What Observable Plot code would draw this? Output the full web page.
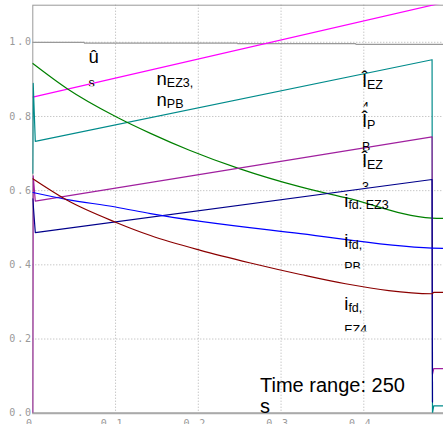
<!DOCTYPE html>
<html><head><meta charset="utf-8">
<script src="https://cdn.jsdelivr.net/npm/d3@7"></script>
<script src="https://cdn.jsdelivr.net/npm/@observablehq/plot@0.6"></script>
<style>html,body{margin:0;padding:0;overflow:hidden;background:#fff;width:443px;height:424px}</style>
</head><body><div id="chart"></div>
<script>
// Axis ticks
const xTicks = [0, 0.1, 0.2, 0.3, 0.4];
const yTicks = [0, 0.2, 0.4, 0.6, 0.8, 1.0];

// Series (time in s, per-unit values)
const usT = [0, 0.062, 0.0625, 0.247, 0.2475, 0.39, 0.3905, 0.5];
const usV = [1.0, 1.0, 0.9975, 0.9975, 0.9965, 0.9965, 0.9945, 0.9945];

const magT = [0, 0.5];
const magV = [0.852, 1.109];

const tealT = [0, 0.0005, 0.003, 0.4825, 0.4830, 0.4845, 0.5];
const tealV = [0.647, 0.889, 0.733, 0.953, 0.0, 0.02, 0.02];

const greenT = [0, 0.0416, 0.1, 0.1422, 0.1893, 0.2486, 0.3235, 0.3779, 0.4825, 0.5];
const greenV = [0.943, 0.875, 0.800, 0.7545, 0.709, 0.660, 0.610, 0.581, 0.526, 0.525];

const purpleT = [0, 0.0005, 0.003, 0.4825, 0.4830, 0.4845, 0.5];
const purpleV = [0, 0.64, 0.572, 0.745, 0.105, 0.12, 0.12];

const navyT = [0, 0.003, 0.4825, 0.4830];
const navyV = [0.578, 0.487, 0.630, 0.03];

const blueT = [0, 0.0416, 0.1, 0.1422, 0.3235, 0.4825, 0.5];
const blueV = [0.595, 0.576, 0.556, 0.538, 0.484, 0.445, 0.444];

const redT = [0, 0.0416, 0.1, 0.1422, 0.2026, 0.263, 0.3235, 0.3779, 0.4825, 0.4845, 0.5];
const redV = [0.632, 0.574, 0.515, 0.479, 0.439, 0.405, 0.374, 0.349, 0.322, 0.326, 0.326];

// Annotations
const labelMain = ["û", "n", "Î", "Î", "Î", "i", "i", "i", "Time range: 250"];
const labelSub = ["", "EZ3,", "EZ", "P", "EZ", "fd, EZ3", "fd,", "fd,", ""];
const label2Main = ["", "n", "", "", "", "", "", "", "s"];
const label2Sub = ["s", "PB", "4", "B", "3", "", "PB", "EZ4", ""];
const labelX = [0.0673, 0.1495, 0.3977, 0.3977, 0.3977, 0.3764, 0.3764, 0.3764, 0.2746];
const labelY = [0.9434, 0.884, 0.8794, 0.7707, 0.6628, 0.5549, 0.447, 0.277, 0.0585];

// styling (not data)
const labelClip = [23, 23, 19.5, 23, 20, 1.5, 21, 20.7, 25];
const labelSize = [18.5, 18.5, 18.5, 18.5, 18.5, 18.5, 18.5, 18.5, 20];

const series = [
  {T: usT, V: usV, color: "#999999", curve: "linear"},
  {T: magT, V: magV, color: "#ff00ff", curve: "linear"},
  {T: tealT, V: tealV, color: "#008b8b", curve: "linear"},
  {T: greenT, V: greenV, color: "#008000", curve: "monotone-x"},
  {T: purpleT, V: purpleV, color: "#a0209f", curve: "linear"},
  {T: navyT, V: navyV, color: "#00008b", curve: "linear"},
  {T: blueT, V: blueV, color: "#0000ff", curve: "monotone-x"},
  {T: redT, V: redV, color: "#8b0000", curve: "monotone-x"}
];

const lineMarks = series.map(s => Plot.line(s.T.map((t, i) => ({t, v: s.V[i]})), {
  x: "t", y: "v", stroke: s.color, strokeWidth: 1.2, curve: s.curve, clip: true
}));

const idx = d3.range(labelMain.length);

const plot = Plot.plot({
  width: 460, height: 440,
  marginLeft: 32.3, marginRight: 13.95, marginTop: 4.7, marginBottom: 27.3,
  style: {background: "#fff", maxWidth: "none", overflow: "visible"},
  x: {domain: [0, 0.5], ticks: xTicks, tickFormat: d => d === 0 ? "0" : d.toFixed(1), tickSize: 0, tickPadding: 7, label: null},
  y: {domain: [0, 1.1], ticks: yTicks, tickFormat: d => d.toFixed(1), tickSize: 0, tickPadding: 0, label: null},
  marks: [
    Plot.ruleY(yTicks.filter(d => d > 0), {stroke: "#b0b0b0", strokeDasharray: "1,2"}),
    Plot.ruleX(xTicks.filter(d => d > 0), {stroke: "#b0b0b0", strokeDasharray: "1,2"}),
    Plot.frame({stroke: "#999"}),
    Plot.ruleY([0], {stroke: "#aaa", strokeWidth: 2}),
    ...lineMarks,
    Plot.text(idx, {
      x: i => labelX[i], y: i => labelY[i], text: i => labelMain[i],
      textAnchor: "start", lineAnchor: "bottom",
      fontFamily: "Liberation Sans, Arial, sans-serif", fontSize: 18.5, fill: "black"
    })
  ]
});

document.getElementById("chart").appendChild(plot);
const svg = d3.select(plot);
svg.style("max-width", "none");

svg.selectAll('[aria-label^="x-axis"] text, [aria-label^="y-axis"] text')
  .attr("font-family", "DejaVu Sans Mono, monospace")
  .attr("font-size", 10)
  .style("letter-spacing", "1.8px")
  .attr("fill", "#999");
svg.selectAll('[aria-label^="x-axis"] text').attr("dx", -3);

const defs = svg.append("defs");
const ss = 12.5;
svg.selectAll('g[aria-label="text"] text').each(function(_, i) {
  const t = d3.select(this);
  t.text(null).attr("font-size", labelSize[i]);
  t.append("tspan").text(labelMain[i]);
  if (labelSub[i]) t.append("tspan").attr("font-size", ss).attr("dy", 2).text(labelSub[i]);
  if (label2Main[i]) {
    t.append("tspan").attr("x", 0).attr("y", 21).text(label2Main[i]);
    if (label2Sub[i]) t.append("tspan").attr("font-size", ss).attr("dy", 2).text(label2Sub[i]);
  } else if (label2Sub[i]) {
    t.append("tspan").attr("x", 0).attr("y", 24).attr("font-size", ss).text(label2Sub[i]);
  }
  const id = "lclip" + i;
  defs.append("clipPath").attr("id", id)
    .append("rect").attr("x", -20).attr("y", -100).attr("width", 400).attr("height", 100 + labelClip[i]);
  t.attr("clip-path", `url(#${id})`);
});
</script>
</body></html>
